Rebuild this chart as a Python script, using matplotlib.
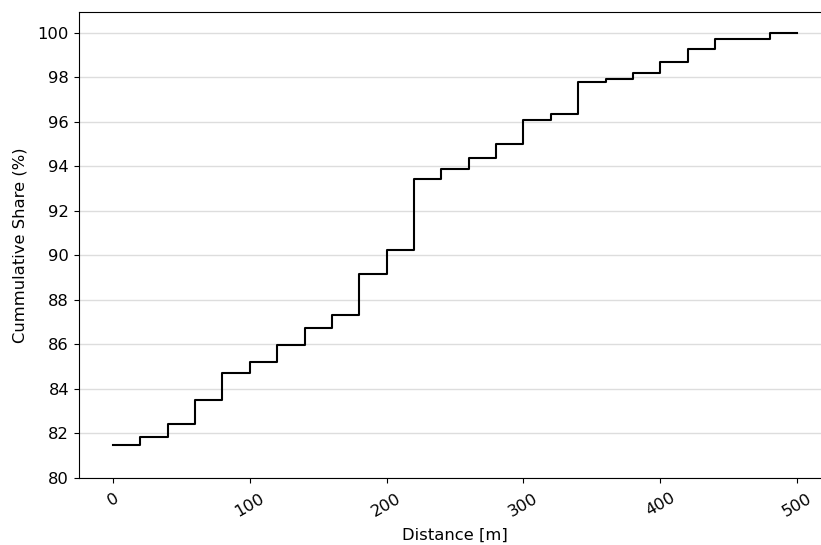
import matplotlib.pyplot as plt

distance = [0, 20, 40, 60, 80, 100, 120, 140, 160, 180, 200, 220, 240,
            260, 280, 300, 320, 340, 360, 380, 400, 420, 440, 460, 480, 500]
share = [81.50, 81.82, 82.43, 83.51, 84.72, 85.21, 85.96, 86.73, 87.34, 89.18,
         90.25, 93.44, 93.89, 94.39, 94.98, 96.07, 96.34, 97.76, 97.91, 98.19,
         98.68, 99.27, 99.70, 99.70, 100.0, 100.0]

plt.rcParams["font.size"] = 11.8

fig = plt.figure(figsize=(8.21, 5.45), dpi=100)
ax = fig.add_axes([0.096, 0.123, 0.9165, 0.855])

ax.step(distance, share, where="post", color="black", linewidth=1.5)
ax.grid(axis="y", color="#dddddd", linewidth=1)
ax.set_axisbelow(True)
ax.spines["right"].set_visible(False)

ax.set_xlim(-25, 525)
ax.set_ylim(80, 100.925)
ax.set_yticks(range(80, 101, 2))
ax.set_xticks(range(0, 501, 100))
ax.tick_params(axis="x", pad=5.5)
plt.setp(ax.get_xticklabels(), rotation=30)

ax.set_xlabel("Distance [m]", labelpad=6)
ax.set_ylabel("Cummulative Share (%)", labelpad=7)

fig.savefig("out.png", dpi=100)
